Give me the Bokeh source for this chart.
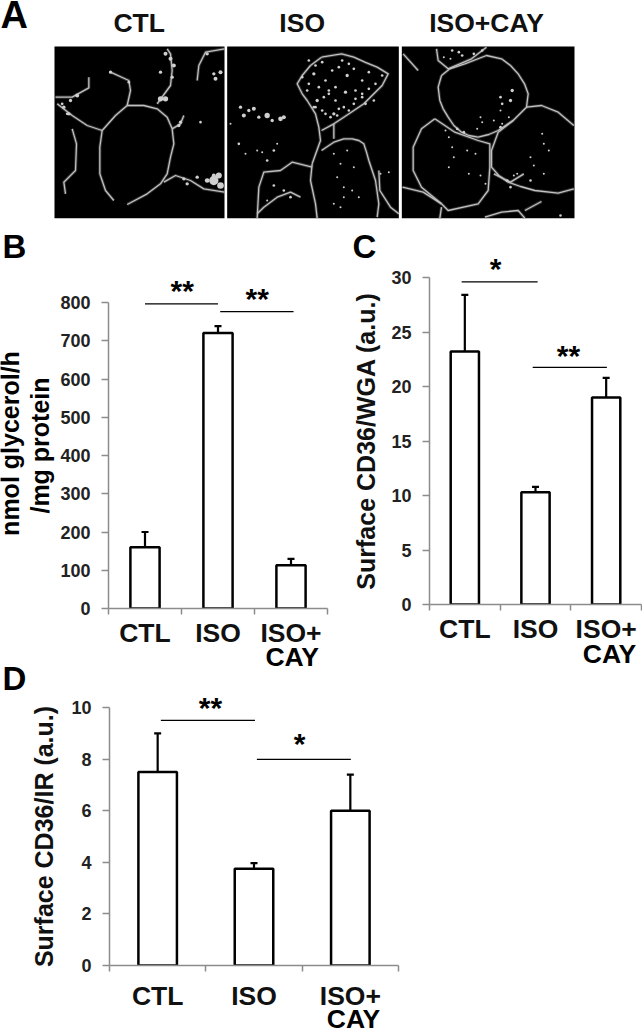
import math
from bokeh.plotting import figure
from bokeh.layouts import column, row
from bokeh.models import FixedTicker, Label, Whisker, TeeHead, ColumnDataSource, Range1d
from bokeh.embed import file_html
from bokeh.resources import INLINE

FONT = "Liberation Sans"
categories = ["CTL", "ISO", "ISO+"]
second_line = "CAY"

# Panel B
b_values = [160, 720, 113]
b_upper = [200, 738, 130]
b_ticks = [0, 100, 200, 300, 400, 500, 600, 700, 800]
# Panel C
c_values = [23.2, 10.3, 19.0]
c_upper = [28.4, 10.8, 20.8]
c_ticks = [0, 5, 10, 15, 20, 25, 30]
# Panel D
d_values = [7.5, 3.75, 6.0]
d_upper = [9.0, 3.97, 7.4]
d_ticks = [0, 2, 4, 6, 8, 10]

# significance lines: x0, x1, y
b_sig = [(0.5, 1.5, 796.5), (1.53, 2.535, 776)]
c_sig = [(0.455, 1.53, 29.6), (1.46, 2.51, 21.75)]
d_sig = [(0.533, 1.51, 9.5), (1.53, 2.505, 7.99)]

# texts that lie outside the plot frames, placed in picture coordinates
stars = [("**", 181.7, 290), ("**", 256.7, 297.7), ("*", 495, 268), ("**", 568, 355),
         ("**", 210, 706.7), ("*", 299, 742.7)]
letters = [("B", 2, 246), ("C", 352, 246), ("D", 2, 678)]
cay_lines = [(291.7, 656.5), (609, 653), (353, 1018)]
b_ylabels = [("nmol glycerol/h", 9, 443), ("/mg protein", 39, 445)]

# Panel A micrographs, traced in a 3x picture coordinate system
a_titles = [("CTL", 416), ("ISO", 905), ("ISO+CAY", 1458)]
a_panels_left = [162, 680, 1204]
a_panels_right = [672, 1195, 1722]
a_panels_top = [138, 138, 138]
a_panels_bottom = [653, 653, 653]
a_traces = [
    # CTL
    [(380,315),(430,315),(470,325),(500,350),(515,385),(520,430),(510,470),(500,520),(480,550),(440,580),(380,612)],
    [(380,315),(345,345),(305,390),(298,440),(298,520),(315,570),(340,600)],
    [(305,390),(260,375),(215,345),(170,310)],
    [(165,290),(215,290),(265,262),(265,230)],
    [(380,315),(390,270),(385,240),(330,215)],
    [(515,385),(540,370),(550,345)],
    [(470,310),(510,255),(515,210),(510,160),(500,145)],
    [(490,545),(525,525),(570,540),(610,565),(672,575)],
    [(215,385),(228,430),(225,510),(190,545),(195,580)],
    [(590,240),(595,195),(615,155),(672,145)],
    # ISO
    [(963,170),(930,195),(905,225),(890,250),(905,280),(920,300),(945,340),(955,380),(960,420),(935,490)],
    [(963,170),(1023,160),(1060,170),(1093,185),(1130,200),(1163,220),(1145,255),(1120,280),(1090,310),(1060,330),(1030,350),(1000,370),(963,390)],
    [(935,490),(930,540),(945,610),(950,653)],
    [(963,450),(1000,425),(1030,415),(1055,415),(1075,420),(1090,430),(1098,455),(1105,480),(1125,540),(1135,610),(1130,650)],
    [(1000,370),(1000,415)],
    [(935,500),(875,485),(840,510),(790,515),(775,560),(770,653)],
    [(770,640),(790,620),(830,590),(870,575),(900,590)],
    [(1135,510),(1138,570),(1170,620),(1195,640)],
    # ISO+CAY
    [(1323,225),(1348,205),(1393,190),(1458,165),(1503,175),(1530,195),(1553,220),(1572,250),(1583,280),(1578,320),(1538,360),(1493,390),(1465,402),(1433,410),(1405,405),(1383,395),(1360,375),(1343,350),(1328,325),(1318,300),(1313,260),(1323,225)],
    [(1578,320),(1623,315),(1673,335),(1720,375)],
    [(1538,360),(1493,395),(1473,450),(1473,500),(1495,525),(1523,545),(1560,558),(1603,570),(1673,578),(1720,565)],
    [(1303,355),(1263,385),(1238,440),(1238,510),(1263,560),(1323,610),(1343,630),(1433,610),(1463,570),(1468,500),(1468,430),(1433,420),(1363,395),(1303,355)],
    [(1208,160),(1253,210)],
    [(1308,145),(1313,180),(1343,205),(1413,175),(1458,140)],
    [(1206,560),(1268,575),(1323,610)],
    [(1318,653),(1323,620)],
    [(1453,650),(1503,635),(1553,630),(1573,653)],
    [(1573,630),(1623,603)],
    [(1480,520),(1530,545),(1570,520)],
]
a_dots_x = [
    495,510,520,480,495,515,640,655,660,645,660,640,620,600,540,480,205,185,330,385,535,
    720,730,745,760,775,800,815,840,850,715,690,820,830,800,770,785,735,
    905,925,940,955,975,995,1015,1040,1060,1085,1105,1125,1145,985,1005,1035,1065,1095,1120,945,965,990,1015,
    820,850,870,800,1000,1020,1040,1060,1010,1030,1055,1075,1000,1020,1030,1140,1165,
    1500,1505,1500,1440,1445,1335,1345,1355,1360,1345,1400,1425,1405,1440,1455,1625,1630,1645,1590,1600,1630,1540,1520,1530,1550,1680,
    925,945,965,985,1005,1025,1045,1065,1085,1105,950,970,1000,1030,1060,1085,920,940,975,1010,1045,
    210,230,190,200,620,590,560,550,640,
    1355,1375,1385,1350,1330,1420,1445,1370,1390,1430,1535,1530,1480,1500,1505,1525,1590,
]
a_dots_y = [
    160,175,195,215,295,230,540,525,555,235,215,220,160,365,365,295,340,310,215,245,375,
    320,345,330,325,350,345,360,355,350,430,370,450,430,480,450,455,460,
    230,250,220,260,240,210,200,225,205,240,215,250,225,280,300,275,295,310,300,320,330,350,325,
    555,570,590,600,460,490,450,500,530,560,570,590,610,620,590,520,515,
    290,310,330,350,365,390,410,440,470,500,450,460,520,525,550,400,430,450,470,495,520,525,540,560,520,645,
    180,195,185,270,260,180,190,270,280,265,300,290,340,320,310,290,270,320,340,345,330,
    300,285,320,340,540,530,550,535,525,
    150,155,165,175,170,160,150,385,395,385,270,300,360,380,370,350,540,
]
a_dots_r = [
    6,6,6,5,8,5,14,9,10,6,6,5,5,4,5,8,5,4,5,4,5,
    5,6,5,6,5,8,5,7,6,4,3,4,3,4,3,3,3,
    4,4,5,4,4,4,4,5,4,4,4,4,4,4,4,5,4,4,4,4,4,4,4,
    4,4,4,3,3,3,3,3,3,3,3,3,3,3,3,3,3,
    4,4,3,3,3,3,3,3,3,3,3,3,3,3,3,3,3,3,3,3,3,3,4,4,3,4,
    4,4,4,4,4,4,4,4,4,4,5,4,5,4,4,4,4,4,4,4,4,
    5,6,5,4,7,5,5,5,6,
    4,4,4,3,3,4,4,4,4,3,5,5,3,4,3,3,4,
]

pa = figure(width=642, height=225, output_backend="svg", toolbar_location=None,
            x_range=Range1d(0, 1926), y_range=Range1d(675, 0),
            min_border_left=0, min_border_right=0, min_border_top=0, min_border_bottom=0)
pa.axis.visible = False
pa.grid.visible = False
pa.outline_line_color = None
pa.quad(left=a_panels_left, right=a_panels_right, top=a_panels_top, bottom=a_panels_bottom,
        fill_color="#000000", line_color=None)
trace_xs = [[q[0] for q in t] for t in a_traces]
trace_ys = [[q[1] for q in t] for t in a_traces]
pa.multi_line(xs=trace_xs, ys=trace_ys, line_color="#8a8a8a", line_alpha=0.35, line_width=3.2,
              line_join="round")
pa.multi_line(xs=trace_xs, ys=trace_ys, line_color="#c0c0c0", line_width=1.3, line_join="round")
pa.circle(x=a_dots_x, y=a_dots_y, radius=a_dots_r, fill_color="#cfcfcf", line_color=None)
for title, cx in a_titles:
    pa.add_layout(Label(x=cx, y=68, text=title, text_font=FONT, text_font_style="bold",
                        text_font_size="26.5px", text_color="#111111",
                        text_align="center", text_baseline="middle"))
pa.add_layout(Label(x=0, y=42, text="A", text_font=FONT, text_font_style="bold",
                    text_font_size="38px", text_color="#000000",
                    text_align="left", text_baseline="middle"))


def bar_panel(width, height, left, top, fw, fh, values, upper, ticks, ymax, sig,
              cat_standoff, ylabel=None, ylabel_standoff=10, label_size="25px"):
    right = width - left - fw
    bottom = height - top - fh
    p = figure(width=width, height=height, output_backend="svg", toolbar_location=None,
               x_range=Range1d(0, 3), y_range=Range1d(0, ymax),
               min_border_left=left, min_border_right=right,
               min_border_top=top, min_border_bottom=bottom,
               background_fill_color=None, border_fill_color=None)
    p.grid.visible = False
    p.outline_line_color = None
    xs = [0.5, 1.5, 2.5]
    p.vbar(x=xs, top=values, bottom=0, width=0.4, fill_color="#ffffff",
           line_color="#000000", line_width=2.5)
    src = ColumnDataSource(dict(x=xs, v=values, u=upper))
    p.add_layout(Whisker(source=src, base="x", upper="u", lower="v", dimension="height",
                         line_color="#000000", line_width=2.2, lower_head=None,
                         upper_head=TeeHead(size=7, line_color="#000000", line_width=2.2)))
    p.segment(x0=[s[0] for s in sig], x1=[s[1] for s in sig], y0=[s[2] for s in sig],
              y1=[s[2] for s in sig], line_color="#000000", line_width=1.3)
    xa = p.xaxis[0]
    xa.ticker = FixedTicker(ticks=xs, minor_ticks=[0, 1, 2, 3])
    xa.major_label_overrides = {x: c for x, c in zip(xs, categories)}
    xa.major_tick_out = 0
    xa.major_tick_in = 0
    xa.minor_tick_out = 6
    xa.minor_tick_in = 0
    xa.minor_tick_line_color = "#8c8c8c"
    xa.minor_tick_line_width = 1.5
    xa.axis_line_color = "#8c8c8c"
    xa.axis_line_width = 1.5
    xa.major_label_text_font = FONT
    xa.major_label_text_font_style = "bold"
    xa.major_label_text_font_size = "26.5px"
    xa.major_label_text_color = "#111111"
    xa.major_label_standoff = cat_standoff
    ya = p.yaxis[0]
    ya.ticker = FixedTicker(ticks=ticks)
    ya.minor_tick_line_color = None
    ya.major_tick_out = 7
    ya.major_tick_in = 0
    ya.major_tick_line_color = "#8c8c8c"
    ya.major_tick_line_width = 1.5
    ya.axis_line_color = "#8c8c8c"
    ya.axis_line_width = 1.5
    ya.major_label_text_font = FONT
    ya.major_label_text_font_style = "bold"
    ya.major_label_text_font_size = "18px"
    ya.major_label_text_color = "#222222"
    ya.major_label_standoff = 11
    if ylabel:
        ya.axis_label = ylabel
        ya.axis_label_text_font = FONT
        ya.axis_label_text_font_style = "bold"
        ya.axis_label_text_font_size = label_size
        ya.axis_label_text_color = "#111111"
        ya.axis_label_standoff = ylabel_standoff
    return p


pb = bar_panel(335, 440, 108, 77, 219, 306, b_values, b_upper, b_ticks, 800, b_sig, 3)
pc = bar_panel(307, 440, 94, 52, 212, 327, c_values, c_upper, c_ticks, 30, c_sig, 3,
               ylabel="Surface CD36/WGA (a.u.)", ylabel_standoff=8)
pd_ = bar_panel(642, 366, 109, 42, 289, 258, d_values, d_upper, d_ticks, 10, d_sig, 9,
                ylabel="Surface CD36/IR (a.u.)", ylabel_standoff=10)

# Transparent page-sized layer carrying the texts that lie outside the frames
ov = figure(width=642, height=1031, output_backend="svg", toolbar_location=None,
            x_range=Range1d(0, 642), y_range=Range1d(1031, 0),
            min_border_left=0, min_border_right=0, min_border_top=0, min_border_bottom=0,
            background_fill_color=None, border_fill_color=None,
            styles={"position": "absolute", "left": "0px", "top": "0px", "z-index": "5",
                    "pointer-events": "none"})
ov.axis.visible = False
ov.grid.visible = False
ov.outline_line_color = None
ov.scatter(x=[0], y=[0], size=0, fill_alpha=0, line_alpha=0)


def lab(text, x, y, size, align="center", angle=0.0):
    ov.add_layout(Label(x=x, y=y, text=text, text_font=FONT, text_font_style="bold",
                        text_color="#000000", text_font_size=size, angle=angle,
                        text_align=align, text_baseline="middle"))


for text, x, y in stars:
    lab(text, x, y, "30px")
for text, x, y in letters:
    lab(text, x, y, "33px", align="left")
for x, y in cay_lines:
    lab(second_line, x, y, "26.5px")
for text, x, y in b_ylabels:
    lab(text, x, y, "25px", angle=math.pi / 2)

root = column(row(pa), row(column(pb), column(pc), spacing=0), row(pd_), ov, spacing=0,
              styles={"position": "absolute", "left": "0px", "top": "0px"})
open("out.html", "w").write(file_html(root, INLINE))
